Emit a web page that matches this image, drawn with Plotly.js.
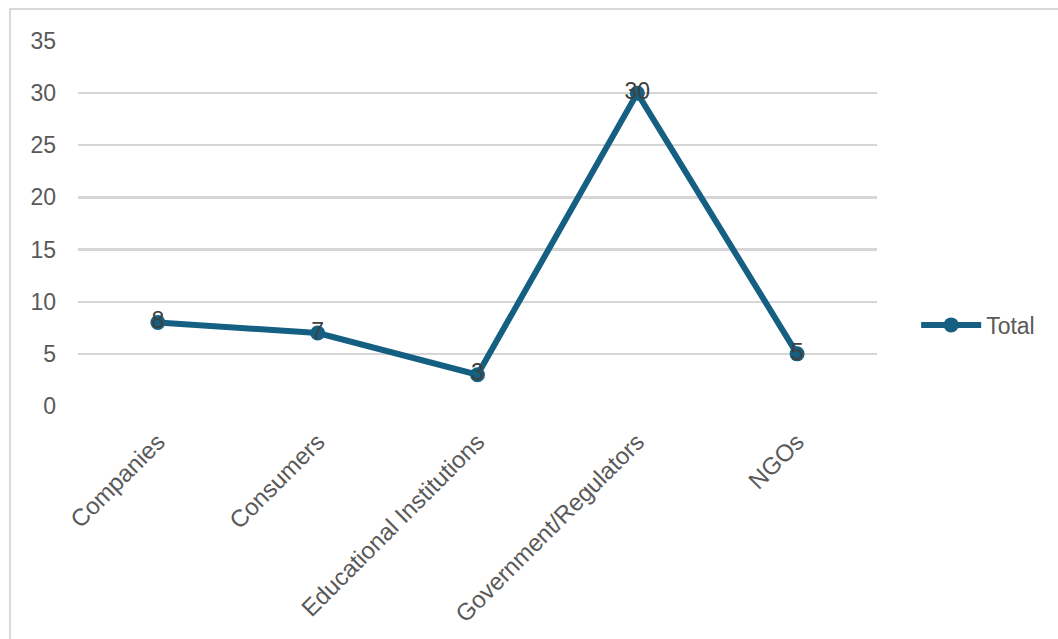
<!DOCTYPE html>
<html>
<head>
<meta charset="utf-8">
<script src="https://cdn.plot.ly/plotly-3.0.1.min.js"></script>
<style>
  html, body { margin: 0; padding: 0; background: #ffffff; }
  #frame {
    position: absolute; left: 9px; top: 8px; width: 1100px; height: 700px;
    border-left: 2px solid #d9d9d9; border-top: 2px solid #d9d9d9;
  }
  #chart { position: absolute; left: 0; top: 0; width: 1058px; height: 639px; }
</style>
</head>
<body>
<div id="frame"></div>
<div id="chart"></div>
<script>
// Respondent groups and their totals
const categories = ["Companies", "Consumers", "Educational Institutions", "Government/Regulators", "NGOs"];
const totals = [8, 7, 3, 30, 5];
const yTicks = [0, 5, 10, 15, 20, 25, 30, 35];

const lineColor = "#156082";
const textColor = "#595959";
const fontFamily = "Liberation Sans, Arial, sans-serif";

const trace = {
  type: "scatter",
  mode: "lines+markers+text",
  name: "Total",
  x: categories,
  y: totals,
  text: totals.map(String),
  textposition: "middle center",
  textfont: { family: fontFamily, size: 23, color: "#404040" },
  line: { color: lineColor, width: 6 },
  marker: { color: lineColor, size: 15, line: { width: 0 } },
  cliponaxis: false,
  hoverinfo: "x+y"
};

const layout = {
  width: 1058,
  height: 639,
  paper_bgcolor: "rgba(0,0,0,0)",
  plot_bgcolor: "rgba(0,0,0,0)",
  margin: { l: 78, r: 181, t: 41, b: 233 },
  font: { family: fontFamily, size: 22, color: textColor },
  showlegend: true,
  legend: {
    x: 1.049, xanchor: "left",
    y: 0.222, yanchor: "middle",
    font: { family: fontFamily, size: 23, color: textColor },
    itemwidth: 60,
    bgcolor: "rgba(0,0,0,0)"
  },
  xaxis: {
    type: "category",
    range: [-0.5, 4.5],
    tickangle: -45,
    showgrid: false,
    zeroline: false,
    showline: false,
    ticks: "",
    ticklabelstandoff: 16,
    tickfont: { family: fontFamily, size: 24, color: textColor }
  },
  yaxis: {
    range: [0, 35],
    tickvals: yTicks,
    ticktext: yTicks.map(String),
    showgrid: true,
    gridcolor: "#d6d6d6",
    gridwidth: 2.2,
    zeroline: false,
    showline: false,
    ticks: "",
    ticklabelstandoff: 21,
    tickfont: { family: fontFamily, size: 23, color: textColor }
  }
};

Plotly.newPlot("chart", [trace], layout, { displayModeBar: false, staticPlot: true });
</script>
</body>
</html>
